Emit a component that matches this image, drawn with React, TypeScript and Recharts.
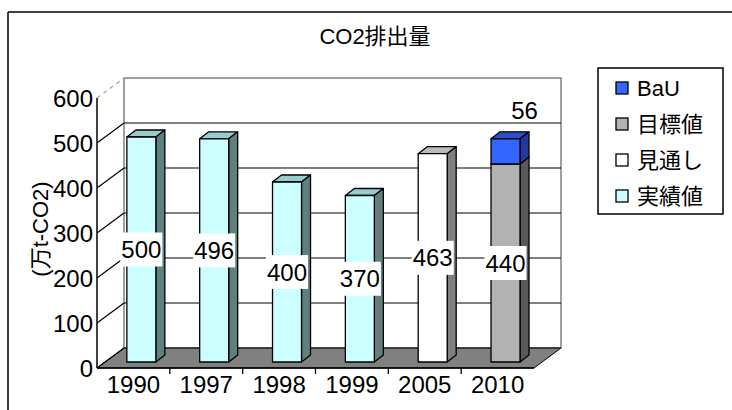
import { BarChart, Bar, XAxis, YAxis, CartesianGrid, ReferenceArea, LabelList } from 'recharts';

// CO2排出量 (万t-CO2)
const years = ['1990', '1997', '1998', '1999', '2005', '2010'];
const actual = [500, 496, 400, 370, null, null];
const outlook = [null, null, null, null, 463, null];
const target = [null, null, null, null, null, 440];
const bau = [null, null, null, null, null, 56];
const yTicks = [0, 100, 200, 300, 400, 500, 600];

const data = years.map((year, i) => ({
  year,
  actual: actual[i],
  outlook: outlook[i],
  target: target[i],
  bau: bau[i],
}));

interface SeriesStyle {
  key: string;
  name: string;
  front: string;
  top: string;
  side: string;
}

const series: SeriesStyle[] = [
  { key: 'actual', name: '実績値', front: '#CCFFFF', top: '#99CCCC', side: '#608080' },
  { key: 'outlook', name: '見通し', front: '#FFFFFF', top: '#BBBBBB', side: '#808080' },
  { key: 'target', name: '目標値', front: '#B2B2B2', top: '#8C8C8C', side: '#595959' },
  { key: 'bau', name: 'BaU', front: '#3366FF', top: '#2A4FCC', side: '#1F3A99' },
];

const W = 732;
const H = 410;
const PLOT = { left: 97, top: 98, width: 437, height: 270 };
const WALL = { dx: 27, dy: -20 }; // depth of floor and back wall
const FACE = { dx: 8, dy: -6 }; // bars stand this far behind the front edge
const DEPTH = { dx: 9, dy: -7 }; // depth of a single bar
const FONT = '"Liberation Sans", Arial, "Noto Sans CJK JP", sans-serif';
const NUM_FONT = '"Liberation Sans Narrow", "Arial Narrow", "Liberation Sans", sans-serif';
const NUM_SIZE = 24;

function makeShape(s: SeriesStyle) {
  return (p: any) => {
    const { x, y, width, height } = p;
    if (!height || height <= 0 || !width) return <g />;
    const x0 = x + FACE.dx;
    const y0 = y + FACE.dy;
    const x1 = x0 + width;
    const y1 = y0 + height;
    const { dx, dy } = DEPTH;
    return (
      <g stroke="#000" strokeWidth={1.3} strokeLinejoin="round">
        <polygon points={`${x0},${y0} ${x0 + dx},${y0 + dy} ${x1 + dx},${y0 + dy} ${x1},${y0}`} fill={s.top} />
        <polygon points={`${x1},${y0} ${x1 + dx},${y0 + dy} ${x1 + dx},${y1 + dy} ${x1},${y1}`} fill={s.side} />
        <rect x={x0} y={y0} width={width} height={height} fill={s.front} />
      </g>
    );
  };
}

function makeLabel(s: SeriesStyle) {
  return (p: any) => {
    const { x, y, width, height, value } = p;
    if (value == null || !height) return null;
    const cx = x + width / 2 + FACE.dx;
    if (s.key === 'bau') {
      // BaU increment is written above the stack
      return (
        <text x={cx + 19} y={y + FACE.dy - 28} textAnchor="middle" dominantBaseline="central"
          fontFamily={NUM_FONT} fontSize={NUM_SIZE} fill="#000">
          {value}
        </text>
      );
    }
    const cy = y + height / 2 + FACE.dy;
    const bw = String(value).length * 11.7 + 7;
    return (
      <g>
        <rect x={cx - bw / 2} y={cy - 17} width={bw} height={34} fill="#fff" />
        <text x={cx} y={cy} textAnchor="middle" dominantBaseline="central"
          fontFamily={NUM_FONT} fontSize={NUM_SIZE} fill="#000">
          {value}
        </text>
      </g>
    );
  };
}

// floor and back wall of the 3-D box
function Walls(p: any) {
  const { x, y, width, height } = p;
  const fy = y + height;
  return (
    <g>
      <polygon
        points={`${x},${fy} ${x + width},${fy} ${x + width + WALL.dx},${fy + WALL.dy} ${x + WALL.dx},${fy + WALL.dy}`}
        fill="#808080" stroke="#000" strokeWidth={1}
      />
      <rect x={x + WALL.dx} y={y + WALL.dy} width={width} height={height} fill="none" stroke="#808080" strokeWidth={1.5} />
    </g>
  );
}

// gridline: diagonal on the left wall plus the line across the back wall
function gridLine(p: any) {
  const { x1, x2, y1 } = p;
  const top = y1 <= PLOT.top + 0.5;
  const c = top ? '#A0A0A0' : '#000';
  return (
    <g key={p.key}>
      <line x1={x1} y1={y1} x2={x1 + WALL.dx} y2={y1 + WALL.dy} stroke={c} strokeWidth={1.2}
        strokeDasharray={top ? '4 4' : undefined} />
      {!top && (
        <line x1={x1 + WALL.dx} y1={y1 + WALL.dy} x2={x2 + WALL.dx} y2={y1 + WALL.dy} stroke={c} strokeWidth={1.2} />
      )}
    </g>
  );
}

function YearTick(p: any) {
  const { x, y, payload, index } = p;
  const half = PLOT.width / years.length / 2;
  return (
    <g>
      {index < years.length - 1 && (
        <line x1={x + half} x2={x + half} y1={y} y2={y + 6} stroke="#000" strokeWidth={1.3} />
      )}
      <text x={x} y={y + 25} textAnchor="middle" fontFamily={NUM_FONT} fontSize={NUM_SIZE} fill="#000">
        {payload.value}
      </text>
    </g>
  );
}

export default function App() {
  const legendItems = [...series].reverse();
  return (
    <div style={{ position: 'absolute', left: 0, top: 0, width: W, height: H, background: '#fff' }}>
      <svg width={W} height={H} style={{ position: 'absolute', left: 0, top: 0 }}>
        <line x1={8} y1={12} x2={W} y2={12} stroke="#000" strokeWidth={1.5} />
        <line x1={8} y1={12} x2={8} y2={H} stroke="#000" strokeWidth={1.5} />
        <text x={375} y={36} textAnchor="middle" dominantBaseline="central" fontFamily={FONT} fontSize={22} fill="#000">
          CO2排出量
        </text>
        <text x={40} y={229} transform="rotate(-90 40 229)" textAnchor="middle" dominantBaseline="central"
          fontFamily={FONT} fontSize={22} fill="#000">
          (万t-CO2)
        </text>
        <rect x={598} y={68} width={125} height={146} fill="#fff" stroke="#000" strokeWidth={1.5} />
        {legendItems.map((s, i) => (
          <g key={s.key}>
            <rect x={616} y={88 + i * 36 - 6} width={12} height={12} fill={s.front} stroke="#000" strokeWidth={1.3} />
            <text x={637} y={88 + i * 36} dominantBaseline="central" fontFamily={FONT} fontSize={22} fill="#000">
              {s.name}
            </text>
          </g>
        ))}
      </svg>
      <div style={{ position: 'absolute', left: 0, top: 0 }}>
        <BarChart
          width={W}
          height={H}
          data={data}
          barCategoryGap="30%"
          margin={{ top: PLOT.top, right: W - PLOT.left - PLOT.width, bottom: 0, left: PLOT.left - 60 }}
        >
          <ReferenceArea y1={0} y2={600} shape={Walls} ifOverflow="visible" zIndex={-200} />
          <CartesianGrid vertical={false} horizontal={gridLine} />
          <XAxis
            dataKey="year"
            height={H - PLOT.top - PLOT.height}
            interval={0}
            tickLine={false}
            tickSize={0}
            tickMargin={0}
            axisLine={{ stroke: '#000', strokeWidth: 1.5 }}
            tick={YearTick}
          />
          <YAxis
            width={60}
            domain={[0, 600]}
            ticks={yTicks}
            interval={0}
            tickLine={false}
            tickSize={0}
            tickMargin={4}
            axisLine={{ stroke: '#000', strokeWidth: 1.5 }}
            tick={{ fill: '#000', fontSize: NUM_SIZE, fontFamily: NUM_FONT }}
          />
          {series.map((s) => (
            <Bar key={s.key} dataKey={s.key} name={s.name} stackId="s" shape={makeShape(s)} isAnimationActive={false}>
              <LabelList dataKey={s.key} content={makeLabel(s)} />
            </Bar>
          ))}
        </BarChart>
      </div>
    </div>
  );
}
